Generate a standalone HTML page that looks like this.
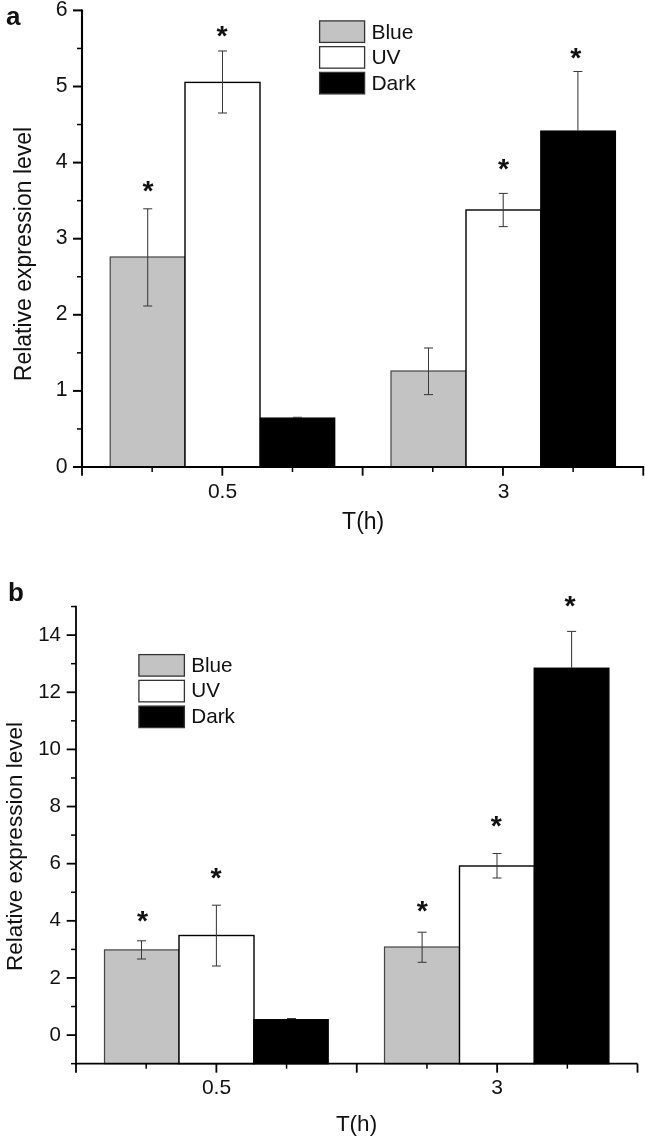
<!DOCTYPE html>
<html><head><meta charset="utf-8"><title>Figure</title>
<style>
html,body{margin:0;padding:0;background:#fff;}
svg{display:block;font-family:"Liberation Sans", sans-serif;fill:#111;}
</style></head>
<body>
<svg width="645" height="1138" viewBox="0 0 645 1138">
<rect x="0" y="0" width="645" height="1138" fill="#fff" stroke="none"/>
<rect x="110.2" y="257" width="74.8" height="210.0" fill="#c3c3c3" stroke="#444" stroke-width="1.2"/>
<rect x="185" y="82.4" width="75" height="384.6" fill="#fff" stroke="#000" stroke-width="1.4"/>
<rect x="260.55" y="418.15" width="74.09999999999997" height="48.85000000000002" fill="#000" stroke="#000" stroke-width="1.4"/>
<rect x="391" y="371" width="75" height="96.0" fill="#c3c3c3" stroke="#444" stroke-width="1.2"/>
<rect x="466" y="210" width="75" height="257.0" fill="#fff" stroke="#000" stroke-width="1.4"/>
<rect x="540.85" y="131.15" width="74.5" height="335.85" fill="#000" stroke="#000" stroke-width="1.4"/>
<line x1="147.7" y1="208.8" x2="147.7" y2="306" stroke="#3a3a3a" stroke-width="1.05"/>
<line x1="143.2" y1="208.8" x2="152.2" y2="208.8" stroke="#3a3a3a" stroke-width="1.05"/>
<line x1="143.2" y1="306" x2="152.2" y2="306" stroke="#3a3a3a" stroke-width="1.05"/>
<line x1="222.5" y1="51" x2="222.5" y2="113" stroke="#3a3a3a" stroke-width="1.05"/>
<line x1="218.0" y1="51" x2="227.0" y2="51" stroke="#3a3a3a" stroke-width="1.05"/>
<line x1="218.0" y1="113" x2="227.0" y2="113" stroke="#3a3a3a" stroke-width="1.05"/>
<line x1="293.0" y1="417.3" x2="302.0" y2="417.3" stroke="#3a3a3a" stroke-width="1.05"/>
<line x1="428.5" y1="348" x2="428.5" y2="394.6" stroke="#3a3a3a" stroke-width="1.05"/>
<line x1="424.0" y1="348" x2="433.0" y2="348" stroke="#3a3a3a" stroke-width="1.05"/>
<line x1="424.0" y1="394.6" x2="433.0" y2="394.6" stroke="#3a3a3a" stroke-width="1.05"/>
<line x1="503.2" y1="193.4" x2="503.2" y2="226.6" stroke="#3a3a3a" stroke-width="1.05"/>
<line x1="498.7" y1="193.4" x2="507.7" y2="193.4" stroke="#3a3a3a" stroke-width="1.05"/>
<line x1="498.7" y1="226.6" x2="507.7" y2="226.6" stroke="#3a3a3a" stroke-width="1.05"/>
<line x1="577.9" y1="71.5" x2="577.9" y2="131" stroke="#3a3a3a" stroke-width="1.05"/>
<line x1="573.4" y1="71.5" x2="582.4" y2="71.5" stroke="#3a3a3a" stroke-width="1.05"/>
<line x1="82" y1="9.4" x2="82" y2="468.0" stroke="#000" stroke-width="2.1"/>
<line x1="81" y1="467.0" x2="644.2" y2="467.0" stroke="#000" stroke-width="1.9"/>
<line x1="73" y1="467.0" x2="82" y2="467.0" stroke="#000" stroke-width="2"/>
<text x="67.5" y="472.5" font-size="21.2" text-anchor="end" font-weight="normal" >0</text>
<line x1="77" y1="428.95" x2="82" y2="428.95" stroke="#000" stroke-width="1.5"/>
<line x1="73" y1="390.9" x2="82" y2="390.9" stroke="#000" stroke-width="2"/>
<text x="67.5" y="396.4" font-size="21.2" text-anchor="end" font-weight="normal" >1</text>
<line x1="77" y1="352.85" x2="82" y2="352.85" stroke="#000" stroke-width="1.5"/>
<line x1="73" y1="314.8" x2="82" y2="314.8" stroke="#000" stroke-width="2"/>
<text x="67.5" y="320.3" font-size="21.2" text-anchor="end" font-weight="normal" >2</text>
<line x1="77" y1="276.75" x2="82" y2="276.75" stroke="#000" stroke-width="1.5"/>
<line x1="73" y1="238.70000000000002" x2="82" y2="238.70000000000002" stroke="#000" stroke-width="2"/>
<text x="67.5" y="244.20000000000002" font-size="21.2" text-anchor="end" font-weight="normal" >3</text>
<line x1="77" y1="200.65000000000003" x2="82" y2="200.65000000000003" stroke="#000" stroke-width="1.5"/>
<line x1="73" y1="162.60000000000002" x2="82" y2="162.60000000000002" stroke="#000" stroke-width="2"/>
<text x="67.5" y="168.10000000000002" font-size="21.2" text-anchor="end" font-weight="normal" >4</text>
<line x1="77" y1="124.55000000000001" x2="82" y2="124.55000000000001" stroke="#000" stroke-width="1.5"/>
<line x1="73" y1="86.5" x2="82" y2="86.5" stroke="#000" stroke-width="2"/>
<text x="67.5" y="92.0" font-size="21.2" text-anchor="end" font-weight="normal" >5</text>
<line x1="77" y1="48.450000000000045" x2="82" y2="48.450000000000045" stroke="#000" stroke-width="1.5"/>
<line x1="73" y1="10.400000000000034" x2="82" y2="10.400000000000034" stroke="#000" stroke-width="2"/>
<text x="67.5" y="15.900000000000034" font-size="21.2" text-anchor="end" font-weight="normal" >6</text>
<line x1="82.0" y1="467.0" x2="82.0" y2="475.7" stroke="#000" stroke-width="1.8"/>
<line x1="152.16" y1="467.0" x2="152.16" y2="472.0" stroke="#000" stroke-width="1.5"/>
<line x1="222.32" y1="467.0" x2="222.32" y2="475.7" stroke="#000" stroke-width="1.8"/>
<line x1="292.48" y1="467.0" x2="292.48" y2="472.0" stroke="#000" stroke-width="1.5"/>
<line x1="362.64" y1="467.0" x2="362.64" y2="475.7" stroke="#000" stroke-width="1.8"/>
<line x1="432.79999999999995" y1="467.0" x2="432.79999999999995" y2="472.0" stroke="#000" stroke-width="1.5"/>
<line x1="502.96" y1="467.0" x2="502.96" y2="475.7" stroke="#000" stroke-width="1.8"/>
<line x1="573.12" y1="467.0" x2="573.12" y2="472.0" stroke="#000" stroke-width="1.5"/>
<line x1="643.28" y1="467.0" x2="643.28" y2="475.7" stroke="#000" stroke-width="1.8"/>
<text x="222.5" y="497.6" font-size="21" text-anchor="middle" font-weight="normal" >0.5</text>
<text x="503.5" y="497.6" font-size="21" text-anchor="middle" font-weight="normal" >3</text>
<text x="363.2" y="528.6" font-size="23" text-anchor="middle" font-weight="normal" >T(h)</text>
<text x="0" y="0" font-size="23" text-anchor="middle" font-weight="normal" transform="translate(31,254) rotate(-90)">Relative expression level</text>
<text x="6.1" y="24.8" font-size="26" text-anchor="start" font-weight="bold" >a</text>
<text x="148.0" y="199.8" font-size="28.5" text-anchor="middle" font-weight="bold" >*</text>
<text x="222.1" y="44.6" font-size="28.5" text-anchor="middle" font-weight="bold" >*</text>
<text x="503.5" y="178.0" font-size="28.5" text-anchor="middle" font-weight="bold" >*</text>
<text x="575.9000000000001" y="67.3" font-size="28.5" text-anchor="middle" font-weight="bold" >*</text>
<rect x="319.6" y="20.9" width="45" height="21.5" fill="#c3c3c3" stroke="#333" stroke-width="1.3"/>
<text x="371.4" y="38.599999999999994" font-size="21" text-anchor="start" font-weight="normal" >Blue</text>
<rect x="319.6" y="46.65" width="45" height="21.5" fill="#fff" stroke="#333" stroke-width="1.3"/>
<text x="371.4" y="64.35" font-size="21" text-anchor="start" font-weight="normal" >UV</text>
<rect x="319.6" y="72.4" width="45" height="21.5" fill="#000" stroke="#333" stroke-width="1.3"/>
<text x="371.4" y="90.10000000000001" font-size="21" text-anchor="start" font-weight="normal" >Dark</text>
<rect x="104.5" y="949.9" width="74.5" height="113.76999999999987" fill="#c3c3c3" stroke="#444" stroke-width="1.2"/>
<rect x="179" y="935.5" width="75" height="128.16999999999985" fill="#fff" stroke="#000" stroke-width="1.4"/>
<rect x="253.85" y="1019.75" width="74.29999999999998" height="43.919999999999845" fill="#000" stroke="#000" stroke-width="1.4"/>
<rect x="384.5" y="947" width="75.0" height="116.66999999999985" fill="#c3c3c3" stroke="#444" stroke-width="1.2"/>
<rect x="459.5" y="866" width="75.0" height="197.66999999999985" fill="#fff" stroke="#000" stroke-width="1.4"/>
<rect x="534.25" y="668.25" width="74.60000000000002" height="395.41999999999985" fill="#000" stroke="#000" stroke-width="1.4"/>
<line x1="141.5" y1="940.8" x2="141.5" y2="959" stroke="#3a3a3a" stroke-width="1.05"/>
<line x1="137.0" y1="940.8" x2="146.0" y2="940.8" stroke="#3a3a3a" stroke-width="1.05"/>
<line x1="137.0" y1="959" x2="146.0" y2="959" stroke="#3a3a3a" stroke-width="1.05"/>
<line x1="216.4" y1="905.2" x2="216.4" y2="966" stroke="#3a3a3a" stroke-width="1.05"/>
<line x1="211.9" y1="905.2" x2="220.9" y2="905.2" stroke="#3a3a3a" stroke-width="1.05"/>
<line x1="211.9" y1="966" x2="220.9" y2="966" stroke="#3a3a3a" stroke-width="1.05"/>
<line x1="287.0" y1="1018.5" x2="296.0" y2="1018.5" stroke="#3a3a3a" stroke-width="1.05"/>
<line x1="422.1" y1="932.2" x2="422.1" y2="962.3" stroke="#3a3a3a" stroke-width="1.05"/>
<line x1="417.6" y1="932.2" x2="426.6" y2="932.2" stroke="#3a3a3a" stroke-width="1.05"/>
<line x1="417.6" y1="962.3" x2="426.6" y2="962.3" stroke="#3a3a3a" stroke-width="1.05"/>
<line x1="497" y1="853.5" x2="497" y2="878" stroke="#3a3a3a" stroke-width="1.05"/>
<line x1="492.5" y1="853.5" x2="501.5" y2="853.5" stroke="#3a3a3a" stroke-width="1.05"/>
<line x1="492.5" y1="878" x2="501.5" y2="878" stroke="#3a3a3a" stroke-width="1.05"/>
<line x1="571.6" y1="631.4" x2="571.6" y2="668" stroke="#3a3a3a" stroke-width="1.05"/>
<line x1="567.1" y1="631.4" x2="576.1" y2="631.4" stroke="#3a3a3a" stroke-width="1.05"/>
<line x1="76" y1="605.8" x2="76" y2="1064.6699999999998" stroke="#000" stroke-width="1.8"/>
<line x1="75" y1="1063.6699999999998" x2="637.5" y2="1063.6699999999998" stroke="#000" stroke-width="1.8"/>
<line x1="66.7" y1="1035.1" x2="76" y2="1035.1" stroke="#000" stroke-width="1.8"/>
<text x="61" y="1040.6999999999998" font-size="20.5" text-anchor="end" font-weight="normal" >0</text>
<line x1="66.7" y1="977.9599999999999" x2="76" y2="977.9599999999999" stroke="#000" stroke-width="1.8"/>
<text x="61" y="983.56" font-size="20.5" text-anchor="end" font-weight="normal" >2</text>
<line x1="66.7" y1="920.8199999999999" x2="76" y2="920.8199999999999" stroke="#000" stroke-width="1.8"/>
<text x="61" y="926.42" font-size="20.5" text-anchor="end" font-weight="normal" >4</text>
<line x1="66.7" y1="863.6799999999998" x2="76" y2="863.6799999999998" stroke="#000" stroke-width="1.8"/>
<text x="61" y="869.2799999999999" font-size="20.5" text-anchor="end" font-weight="normal" >6</text>
<line x1="66.7" y1="806.54" x2="76" y2="806.54" stroke="#000" stroke-width="1.8"/>
<text x="61" y="812.14" font-size="20.5" text-anchor="end" font-weight="normal" >8</text>
<line x1="66.7" y1="749.3999999999999" x2="76" y2="749.3999999999999" stroke="#000" stroke-width="1.8"/>
<text x="61" y="754.9999999999999" font-size="20.5" text-anchor="end" font-weight="normal" >10</text>
<line x1="66.7" y1="692.2599999999999" x2="76" y2="692.2599999999999" stroke="#000" stroke-width="1.8"/>
<text x="61" y="697.8599999999999" font-size="20.5" text-anchor="end" font-weight="normal" >12</text>
<line x1="66.7" y1="635.1199999999999" x2="76" y2="635.1199999999999" stroke="#000" stroke-width="1.8"/>
<text x="61" y="640.7199999999999" font-size="20.5" text-anchor="end" font-weight="normal" >14</text>
<line x1="71" y1="1063.6699999999998" x2="76" y2="1063.6699999999998" stroke="#000" stroke-width="1.5"/>
<line x1="71" y1="1006.5299999999999" x2="76" y2="1006.5299999999999" stroke="#000" stroke-width="1.5"/>
<line x1="71" y1="949.3899999999999" x2="76" y2="949.3899999999999" stroke="#000" stroke-width="1.5"/>
<line x1="71" y1="892.2499999999999" x2="76" y2="892.2499999999999" stroke="#000" stroke-width="1.5"/>
<line x1="71" y1="835.1099999999999" x2="76" y2="835.1099999999999" stroke="#000" stroke-width="1.5"/>
<line x1="71" y1="777.9699999999999" x2="76" y2="777.9699999999999" stroke="#000" stroke-width="1.5"/>
<line x1="71" y1="720.8299999999999" x2="76" y2="720.8299999999999" stroke="#000" stroke-width="1.5"/>
<line x1="71" y1="663.6899999999998" x2="76" y2="663.6899999999998" stroke="#000" stroke-width="1.5"/>
<line x1="71" y1="606.55" x2="76" y2="606.55" stroke="#000" stroke-width="1.5"/>
<line x1="76.0" y1="1063.6699999999998" x2="76.0" y2="1072.6699999999998" stroke="#000" stroke-width="1.8"/>
<line x1="146.19" y1="1063.6699999999998" x2="146.19" y2="1068.6699999999998" stroke="#000" stroke-width="1.5"/>
<line x1="216.38" y1="1063.6699999999998" x2="216.38" y2="1072.6699999999998" stroke="#000" stroke-width="1.8"/>
<line x1="286.57" y1="1063.6699999999998" x2="286.57" y2="1068.6699999999998" stroke="#000" stroke-width="1.5"/>
<line x1="356.76" y1="1063.6699999999998" x2="356.76" y2="1072.6699999999998" stroke="#000" stroke-width="1.8"/>
<line x1="426.95" y1="1063.6699999999998" x2="426.95" y2="1068.6699999999998" stroke="#000" stroke-width="1.5"/>
<line x1="497.14" y1="1063.6699999999998" x2="497.14" y2="1072.6699999999998" stroke="#000" stroke-width="1.8"/>
<line x1="567.3299999999999" y1="1063.6699999999998" x2="567.3299999999999" y2="1068.6699999999998" stroke="#000" stroke-width="1.5"/>
<line x1="637.52" y1="1063.6699999999998" x2="637.52" y2="1072.6699999999998" stroke="#000" stroke-width="1.8"/>
<text x="216.5" y="1094" font-size="21" text-anchor="middle" font-weight="normal" >0.5</text>
<text x="497" y="1094" font-size="21" text-anchor="middle" font-weight="normal" >3</text>
<text x="356.5" y="1131.2" font-size="22.5" text-anchor="middle" font-weight="normal" >T(h)</text>
<text x="0" y="0" font-size="22.5" text-anchor="middle" font-weight="normal" transform="translate(22.2,846.5) rotate(-90)">Relative expression level</text>
<text x="7.9" y="600.7" font-size="26" text-anchor="start" font-weight="bold" >b</text>
<text x="142.5" y="929.5" font-size="28.5" text-anchor="middle" font-weight="bold" >*</text>
<text x="216.0" y="887.0" font-size="28.5" text-anchor="middle" font-weight="bold" >*</text>
<text x="422.4" y="919.5" font-size="28.5" text-anchor="middle" font-weight="bold" >*</text>
<text x="496.2" y="834.5" font-size="28.5" text-anchor="middle" font-weight="bold" >*</text>
<text x="570.0" y="614.5" font-size="28.5" text-anchor="middle" font-weight="bold" >*</text>
<rect x="138.9" y="654.6" width="45.5" height="21.5" fill="#c3c3c3" stroke="#333" stroke-width="1.3"/>
<text x="191.2" y="671.6" font-size="20.7" text-anchor="start" font-weight="normal" >Blue</text>
<rect x="138.9" y="680.35" width="45.5" height="21.5" fill="#fff" stroke="#333" stroke-width="1.3"/>
<text x="191.2" y="697.35" font-size="20.7" text-anchor="start" font-weight="normal" >UV</text>
<rect x="138.9" y="706.1" width="45.5" height="21.5" fill="#000" stroke="#333" stroke-width="1.3"/>
<text x="191.2" y="723.1" font-size="20.7" text-anchor="start" font-weight="normal" >Dark</text>
</svg>
</body></html>
